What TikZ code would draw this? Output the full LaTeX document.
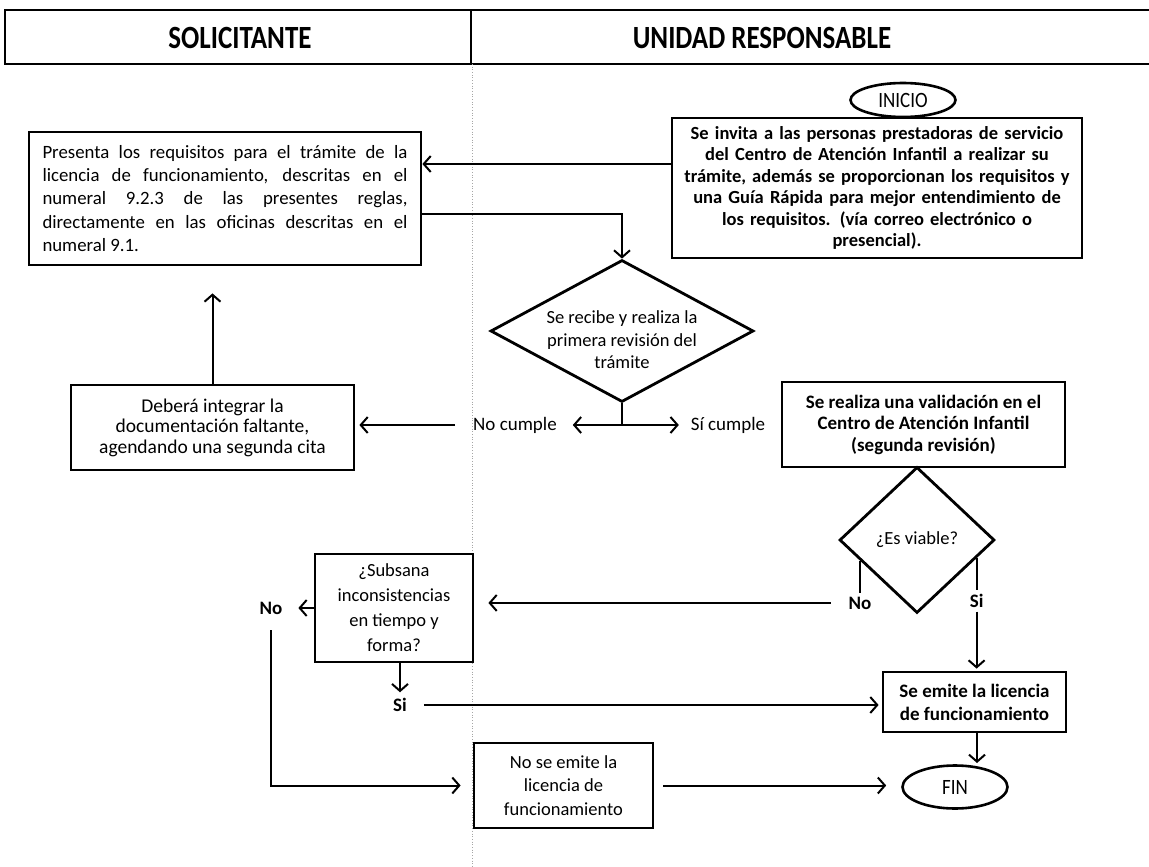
\documentclass[tikz,border=0pt]{standalone}
\usepackage{fontspec}
\setmainfont{Carlito}
\usepackage{tikz}
\usetikzlibrary{arrows.meta, positioning, shapes.geometric}

\begin{document}
\begin{tikzpicture}[x=1pt,y=-1pt,line width=2pt,>={Straight Barb[length=7pt,width=16pt]}]
    \tikzstyle{proc}=[draw,rectangle,line width=2.8pt,inner sep=4pt,align=center,font=\fontsize{19}{22}\selectfont]
    \tikzstyle{procb}=[proc,font=\bfseries\fontsize{19}{22}\selectfont]
    \tikzstyle{decision}=[draw,diamond,aspect=1.8,line width=2.8pt,inner sep=-10pt,align=center,font=\fontsize{18.5}{22.5}\selectfont]
    \tikzstyle{term}=[draw,ellipse,line width=2.6pt,inner sep=0pt,font=\fontsize{19}{22}\selectfont]
    \tikzstyle{lbl}=[inner sep=3pt,font=\fontsize{19}{22}\selectfont]
    \tikzstyle{lblb}=[lbl,font=\bfseries\fontsize{19}{22}\selectfont]
    \tikzstyle{lane}=[inner sep=0pt,font=\bfseries\fontsize{27}{30}\selectfont]

    \useasboundingbox (0,0) rectangle (1149,867);

    % encabezado de carriles
    \draw[line width=2.8pt] (1149,10) -- (5,10) -- (5,64) -- (1149,64);
    \draw[line width=1.8pt] (471,10) -- (471,64);
    \draw[black!35,line width=0.7pt,dotted] (472,64) -- (472,867);
    \node[lane] (sol) at (240,38) {\scalebox{1}[1.2]{SOLICITANTE}};
    \node[lane] (uni) at (762,38) {\scalebox{1}[1.2]{UNIDAD RESPONSABLE}};

    \node[term,minimum width=105pt,minimum height=34pt] (inicio) at (903,100) {\scalebox{1}[1.15]{INICIO}};
    \node[procb,text width=396pt,minimum width=410pt,minimum height=140pt,font=\bfseries\fontsize{18.5}{21.5}\selectfont] (invita) at (877,188)
        {Se invita a las personas prestadoras de servicio\\
         del Centro de Atención Infantil a realizar su\\
         trámite, además se proporcionan los requisitos y\\
         una Guía Rápida para mejor entendimiento de\\
         los requisitos. (vía correo electrónico o\\
         presencial).};
    \node[proc,text width=365pt,align=justify,minimum width=392pt,minimum height=133pt,font=\fontsize{18.8}{23.3}\selectfont] (presenta) at (225,198.5)
        {Presenta los requisitos para el trámite de la\linebreak
         licencia de funcionamiento, descritas en el\linebreak
         numeral 9.2.3 de las presentes reglas,\linebreak
         directamente en las oficinas descritas en el\linebreak
         numeral 9.1.};
    \node[decision,minimum width=263pt,minimum height=142pt] (recibe) at (622,331)
        {\rule{0pt}{31pt}Se recibe y realiza la\\ primera revisión del\\ trámite};
    \node[lbl] (nocumple) at (515,425) {No cumple};
    \node[lbl] (sicumple) at (728,425) {Sí cumple};
    \node[proc,minimum width=283pt,minimum height=85pt,font=\fontsize{19.5}{20.5}\selectfont] (deberia) at (212.5,427.5)
        {Deberá integrar la\\ documentación faltante,\\ agendando una segunda cita};
    \node[procb,minimum width=283pt,minimum height=85pt,font=\bfseries\fontsize{19}{21.5}\selectfont] (valida) at (923.5,424.5)
        {Se realiza una validación en el\\ Centro de Atención Infantil\\ (segunda revisión)};
    \node[decision,minimum width=155pt,minimum height=146pt] (viable) at (917,540) {¿Es viable?};
    \node[lblb] (no2) [below=32pt of viable.200] {No};
    \node[lblb] (si2) [below=32pt of viable.343] {Si};
    \node[proc,minimum width=158pt,minimum height=108pt,font=\fontsize{18.5}{25}\selectfont] (subsana) at (394,608)
        {¿Subsana\\ inconsistencias\\ en tiempo y\\ forma?};
    \node[lblb] (no1) at (271,608) {No};
    \node[lblb] (si1) at (400,705) {Si};
    \node[procb,minimum width=183pt,minimum height=60pt,font=\bfseries\fontsize{19}{23}\selectfont] (emite) at (974.5,702)
        {Se emite la licencia\\ de funcionamiento};
    \node[proc,minimum width=179pt,minimum height=85pt,font=\fontsize{18.5}{23.5}\selectfont] (noemite) at (563.5,785.5)
        {No se emite la\\ licencia de\\ funcionamiento};
    \node[term,minimum width=105pt,minimum height=43pt] (fin) at (955,787) {\scalebox{1}[1.15]{FIN}};

    % conectores
    \draw[->] ([yshift=24pt]invita.west) -- ([yshift=24pt]invita.west -| presenta.east);
    \draw[->] ([yshift=-15.5pt]presenta.east) -| (recibe.north);
    \draw[->,shorten >=12pt] (recibe.south) |- (nocumple.east);
    \draw[->,shorten >=8pt] (recibe.south) |- (sicumple.west);
    \draw[->,shorten <=14pt,shorten >=4pt] (nocumple.west) -- (nocumple.west -| deberia.east);
    \draw[->,shorten >=27pt] (deberia.north) -- (deberia.north |- presenta.south);
    \draw (viable.200) -- (no2.north);
    \draw (viable.343) -- (si2.north);
    \draw[->,shorten <=14pt,shorten >=14pt] (no2.west) -- (no2.west -| subsana.east);
    \draw[->,shorten >=2pt] (si2.south) -- (si2.south |- emite.north);
    \draw[->] (subsana.west) -- ([xshift=12pt]no1.east);
    \draw[->,shorten <=12pt,shorten >=12pt] (no1.south) |- (noemite.west);
    \draw[->,shorten >=2pt] (subsana.south -| si1.north) -- (si1.north);
    \draw[->,shorten <=13pt,shorten >=3pt] (si1.east) -- (si1.east -| emite.west);
    \draw[->,shorten >=1pt] (emite.south -| 977,0) -- (977,764);
    \draw[->,shorten <=9pt,shorten >=15pt] (noemite.east) -- (noemite.east -| fin.west);
\end{tikzpicture}
\end{document}
